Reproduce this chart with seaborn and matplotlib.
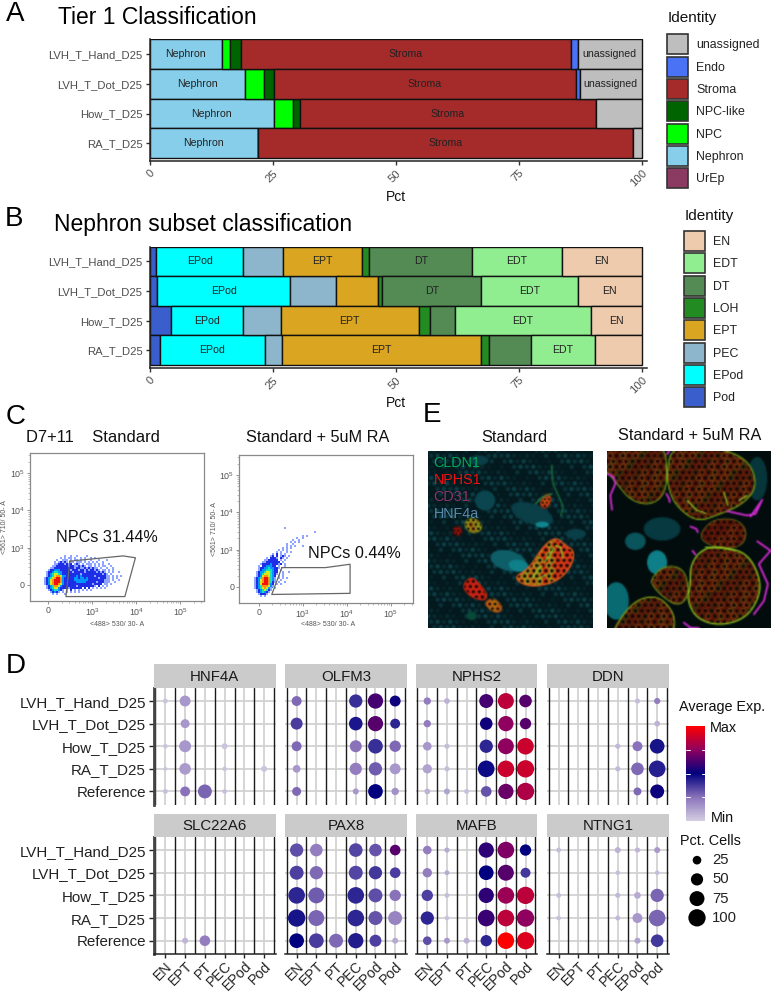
import numpy as np
import pandas as pd
import matplotlib
matplotlib.use("Agg")
import matplotlib.pyplot as plt
import seaborn as sns
from matplotlib.backends.backend_agg import FigureCanvasAgg
from matplotlib.cm import ScalarMappable
from matplotlib.colors import LinearSegmentedColormap, Normalize
from matplotlib.figure import Figure
from matplotlib.patches import Ellipse, Polygon, Patch

W, H = 774, 993

# ---- panels A and B
samples = ["LVH_T_Hand_D25", "LVH_T_Dot_D25", "How_T_D25", "RA_T_D25"]

tier1_levels = ["unassigned", "Endo", "Stroma", "NPC-like", "NPC", "Nephron", "UrEp"]
tier1_colors = ["#BEBEBE", "#4A72F5", "#A52A2A", "#006400", "#00FF00", "#87CEEB", "#8B3A62"]
tier1_unassigned = [13.0, 12.6, 9.3, 1.8]
tier1_endo = [1.4, 0.8, 0.0, 0.0]
tier1_stroma = [67.0, 61.3, 60.1, 76.1]
tier1_npc_like = [2.3, 2.1, 1.5, 0.0]
tier1_npc = [1.5, 3.8, 3.8, 0.0]
tier1_nephron = [14.8, 19.4, 25.3, 22.1]
tier1_urep = [0.0, 0.0, 0.0, 0.0]

nephron_levels = ["EN", "EDT", "DT", "LOH", "EPT", "PEC", "EPod", "Pod"]
nephron_colors = ["#EECBAD", "#90EE90", "#548B54", "#228B22", "#DAA520", "#8DB6CD", "#00FFFF", "#3A5FCD"]
neph_en = [16.2, 13.0, 10.3, 9.5]
neph_edt = [18.2, 19.6, 27.6, 12.9]
neph_dt = [20.9, 20.1, 5.0, 8.6]
neph_loh = [1.6, 0.8, 2.4, 1.7]
neph_ept = [15.9, 8.5, 28.0, 40.3]
neph_pec = [8.2, 9.4, 7.7, 3.6]
neph_epod = [17.6, 27.0, 14.7, 21.3]
neph_pod = [1.4, 1.6, 4.3, 2.1]

# ---- panel D
genes = ["HNF4A", "OLFM3", "NPHS2", "DDN", "SLC22A6", "PAX8", "MAFB", "NTNG1"]
dot_samples = ["LVH_T_Hand_D25", "LVH_T_Dot_D25", "How_T_D25", "RA_T_D25", "Reference"]
cell_types = ["EN", "EPT", "PT", "PEC", "EPod", "Pod"]

hnf4a_pct = [[8, 40, 0, 0, 0, 0], [0, 27, 0, 0, 0, 0], [7, 48, 0, 12, 0, 0], [5, 45, 0, 7, 0, 12], [8, 33, 65, 7, 0, 0]]
hnf4a_exp = [[.03, .15, 0, 0, 0, 0], [0, .15, 0, 0, 0, 0], [.03, .15, 0, .03, 0, 0], [.03, .14, 0, .03, 0, .03], [.04, .25, .28, .05, 0, 0]]
olfm3_pct = [[33, 0, 0, 59, 78, 40], [48, 0, 0, 62, 78, 33], [33, 0, 0, 48, 72, 43], [20, 0, 0, 50, 59, 40], [27, 0, 0, 12, 72, 18]]
olfm3_exp = [[.27, 0, 0, .40, .62, .52], [.37, 0, 0, .45, .65, .42], [.27, 0, 0, .25, .40, .27], [.15, 0, 0, .22, .30, .15], [.27, 0, 0, .15, .50, .17]]
nphs2_pct = [[18, 11, 0, 65, 85, 53], [18, 0, 0, 53, 78, 43], [25, 9, 0, 59, 85, 92], [29, 9, 0, 92, 92, 100], [11, 12, 8, 38, 78, 100]]
nphs2_exp = [[.22, .08, 0, .62, .85, .65], [.22, 0, 0, .53, .75, .65], [.15, .05, 0, .42, .75, .88], [.12, .05, 0, .48, .88, .88], [.08, .12, .04, .32, .68, .82]]
ddn_pct = [[0, 0, 0, 0, 9, 13], [0, 0, 0, 0, 0, 11], [0, 0, 0, 9, 33, 72], [0, 0, 0, 9, 53, 92], [0, 0, 0, 0, 21, 65]]
ddn_exp = [[0, 0, 0, 0, .05, .22], [0, 0, 0, 0, 0, .08], [0, 0, 0, .06, .25, .46], [0, 0, 0, .06, .27, .43], [0, 0, 0, 0, .27, .52]]
slc22a6_pct = [[0] * 6, [0] * 6, [0] * 6, [0] * 6, [0, 12, 38, 0, 0, 0]]
slc22a6_exp = [[0] * 6, [0] * 6, [0] * 6, [0] * 6, [0, .07, .22, 0, 0, 0]]
pax8_pct = [[59, 53, 0, 62, 53, 38], [65, 59, 0, 65, 59, 38], [92, 85, 0, 92, 65, 43], [100, 85, 0, 92, 65, 65], [72, 72, 65, 78, 48, 12]]
pax8_exp = [[.33, .22, 0, .35, .32, .65], [.36, .27, 0, .35, .38, .37], [.42, .30, 0, .42, .33, .25], [.46, .28, 0, .42, .32, .20], [.50, .37, .27, .44, .36, .10]]
mafb_pct = [[25, 9, 0, 78, 92, 43], [29, 8, 0, 72, 85, 33], [43, 8, 0, 78, 92, 100], [59, 7, 0, 92, 92, 100], [25, 12, 12, 43, 92, 100]]
mafb_exp = [[.22, .10, 0, .58, .72, .50], [.22, .10, 0, .50, .65, .38], [.36, .05, 0, .58, .78, .85], [.42, .04, 0, .60, .85, .75], [.33, .15, .08, .42, 1.0, .92]]
ntng1_pct = [[8, 0, 0, 12, 9, 12], [0, 0, 0, 7, 0, 7], [8, 0, 0, 9, 15, 59], [7, 0, 0, 8, 33, 92], [0, 0, 0, 0, 12, 53]]
ntng1_exp = [[.05, 0, 0, .08, .07, .15], [0, 0, 0, .05, 0, .05], [.05, 0, 0, .06, .10, .28], [.04, 0, 0, .06, .15, .28], [0, 0, 0, 0, .12, .38]]
gene_pct = [hnf4a_pct, olfm3_pct, nphs2_pct, ddn_pct, slc22a6_pct, pax8_pct, mafb_pct, ntng1_pct]
gene_exp = [hnf4a_exp, olfm3_exp, nphs2_exp, ddn_exp, slc22a6_exp, pax8_exp, mafb_exp, ntng1_exp]
legend_pct = [25, 50, 75, 100]

# ---- panel C, events per 2 px cell, 1 = sparse ... 7 = densest
flow_standard = [
    "          1  1  1    1                  ",
    "        1 1 11 1  1 1  1 1              ",
    "      1  111 1 11 1 1  1   1   1        ",
    "     1 12121 11 111 1 1 1 1  1          ",
    "     112221212 121 1 111 1 1 1  1       ",
    "    11222222122112121 11 1 1 11  1      ",
    "   112222222222122112121211 1  1  1     ",
    "  12233322222122212212122121 11 1 1     ",
    " 122344332222212222212222212121 1 1  1  ",
    " 1234554322222222212222222222121 1      ",
    " 12345665332222232322222212222211 1 1 1 ",
    "123456776322222332332322222122211 1 1   ",
    "123567776322222333333322222222111 1  1  ",
    "123567776322222233333222221222111  1    ",
    "12356776532222222222222212222 11 1      ",
    " 1234665322222221222222221 2 1 1        ",
    " 123455322221222222 2 2 1 1 1 1         ",
    "  12344321 1 2 1 1 1 1 1                ",
    "   12321 1 1 1 1 1                      ",
    "    1 1   1                             ",
]
flow_ra = [
    "                1                 ",
    "                                  ",
    "                               1  ",
    "                                  ",
    "                         1 1      ",
    "                      1  1        ",
    "                    1  1          ",
    "                   1 1 1          ",
    "                 1  1             ",
    "                 1 1 1   1        ",
    "               1 1 1              ",
    "             1 1 1                ",
    "            1 1  1 1              ",
    "          1 2 1 1                 ",
    "         12 2 121 1               ",
    "       1 2221 21 1                ",
    "      1122222 1 1                 ",
    "     112222222 1                  ",
    "    12222322212 1                 ",
    "   1 2233322 1  1                 ",
    "   12233433221                    ",
    "   1233444322 1                   ",
    "  12334554322  1  1               ",
    "  12345554321  1                  ",
    "  1235665432 1 1                  ",
    " 12346776431 1 1 1                ",
    " 12356776431  1                   ",
    " 12356776421 1  1                 ",
    " 1235777632 1 1                   ",
    " 1234666531                       ",
    " 123456531 1                      ",
    "  12345421                        ",
    "  1234321                         ",
    "   12221                          ",
    "    1 1                           ",
]
flow_colors = ["#8ea6ff", "#1e2ee6", "#0096ff", "#18e0b0", "#d8e818", "#ff9010", "#f01010"]
gate_standard_x = [0.49, 1.70, 1.98, 1.74, 0.40, 0.49]
gate_standard_y = [0.64, 0.78, 0.73, -0.31, -0.31, 0.64]
gate_ra_x = [0.52, 1.51, 2.07, 2.07, 0.29, 0.52]
gate_ra_y = [0.52, 0.52, 0.61, -0.17, -0.20, 0.52]

sns.set_theme(style="white")
plt.rcParams["font.family"] = ["Liberation Sans", "DejaVu Sans"]
plt.rcParams["mathtext.fontset"] = "custom"
plt.rcParams["mathtext.rm"] = "Liberation Sans"
fig = plt.figure(figsize=(W / 100, H / 100), dpi=100)


def px_axes(x0, y0, x1, y1):
    return fig.add_axes([x0 / W, 1 - y1 / H, (x1 - x0) / W, (y1 - y0) / H])


def px_text(x, y, s, **kw):
    kw.setdefault("va", "center")
    return fig.text(x / W, 1 - y / H, s, **kw)


def stacked(box, levels, colors, columns, legend_x, legend_y, title_y):
    long = pd.DataFrame({"sample": samples * len(levels),
                         "identity": np.repeat(levels, len(samples)),
                         "pct": np.concatenate(columns)})
    ax = px_axes(*box)
    sns.histplot(data=long, y="sample", weights="pct", hue="identity", hue_order=levels,
                 multiple="stack", discrete=True, shrink=1, palette=dict(zip(levels, colors)),
                 edgecolor="#111111", linewidth=1.0, alpha=1, legend=False, ax=ax)
    # names inside the wide segments
    for row in range(len(samples)):
        left = 0
        for lev, col in zip(levels[::-1], columns[::-1]):
            if col[row] >= 10:
                ax.text(left + col[row] / 2, row, lev, ha="center", va="center", fontsize=7.6, color="#222222")
            left += col[row]
    ax.set_xlim(0, 101)
    ax.set_ylim(3.6, -0.5)
    ax.set_yticks(range(len(samples)), samples)
    ax.set_xticks([0, 25, 50, 75, 100])
    ax.set_ylabel("")
    ax.set_xlabel("")
    ax.tick_params(axis="y", left=True, length=3, width=1, color="#333333", labelcolor="#4D4D4D", labelsize=8.1, pad=2)
    ax.tick_params(axis="x", bottom=True, length=3, width=1, color="#333333", labelcolor="#4D4D4D", labelsize=8.1, pad=2)
    plt.setp(ax.get_xticklabels(), rotation=45, ha="right", rotation_mode="anchor")
    sns.despine(ax=ax)
    for s in ["left", "bottom"]:
        ax.spines[s].set_color("#222222")
        ax.spines[s].set_linewidth(1.1)
    handles = [Patch(facecolor=c, edgecolor="#333333", linewidth=1.2, label=l) for l, c in zip(levels, colors)]
    fig.legend(handles=handles, loc="upper left", bbox_to_anchor=(legend_x / W, 1 - legend_y / H),
               frameon=False, fontsize=8.9, handlelength=1.72, handleheight=2.11, labelspacing=0.19,
               handletextpad=0.62, borderaxespad=0, borderpad=0, labelcolor="#222222")
    px_text(legend_x + 1, title_y, "Identity", fontsize=11, color="#111111")
    return ax


stacked((149.5, 39.5, 646.5, 161), tier1_levels, tier1_colors,
        [tier1_unassigned, tier1_endo, tier1_stroma, tier1_npc_like, tier1_npc, tier1_nephron, tier1_urep],
        667, 34.5, 18)
stacked((149.5, 246.7, 646.5, 368), nephron_levels, nephron_colors,
        [neph_en, neph_edt, neph_dt, neph_loh, neph_ept, neph_pec, neph_epod, neph_pod],
        684, 231, 216)
px_text(396, 197, "Pct", fontsize=10, ha="center", color="#111111")
px_text(396, 403, "Pct", fontsize=10, ha="center", color="#111111")

for x, y, s in [(6, 14, "A"), (5, 219, "B"), (6, 417, "C"), (6, 666, "D"), (423, 415, "E")]:
    px_text(x, y, s, fontsize=20, color="black")
px_text(58, 17, "Tier 1 Classification", fontsize=16.5, color="black")
px_text(54, 224.5, "Nephron subset classification", fontsize=16.5, color="black")


def flow_plot(box, x0, y0, rows, gate_x, gate_y, origin, ylab_x, xlab_x, xlab_y):
    ax = px_axes(*box)
    # decade coordinates: 0 -> 0, 1 -> 10^3, 2 -> 10^4, 3 -> 10^5
    dx, dy = 44.0, 37.3
    cells = [(c, r, int(ch)) for r, row in enumerate(rows) for c, ch in enumerate(row) if ch != " "]
    ev = pd.DataFrame(cells, columns=["col", "row", "level"])
    ev["x"] = (origin[0] + ev["col"] * 2 - x0) / dx
    ev["y"] = (y0 - origin[1] - ev["row"] * 2) / dy
    sizes = {1: 1.7, 2: 2.6, 3: 3.4, 4: 3.8, 5: 3.8, 6: 3.8, 7: 3.8}
    sns.scatterplot(data=ev, x="x", y="y", hue="level", palette=dict(zip(range(1, 8), flow_colors)),
                    size="level", sizes=sizes, marker="s", linewidth=0, legend=False, ax=ax)
    sns.lineplot(x=gate_x, y=gate_y, sort=False, estimator=None, color="#666666", linewidth=0.9, ax=ax)
    ax.set_xlim((box[0] - x0) / dx, (box[2] - x0) / dx)
    ax.set_ylim((y0 - box[3]) / dy, (y0 - box[1]) / dy)
    ax.set_xticks([0, 1, 2, 3], ["0", "$10^3$", "$10^4$", "$10^5$"])
    ax.set_yticks([0, 1, 2, 3], ["0", "$10^3$", "$10^4$", "$10^5$"])
    minors = [d + np.log10(k) for d in [0, 1, 2, 3] for k in range(2, 10)]
    ax.set_xticks([m for m in minors if m < 3.5], minor=True)
    ax.set_yticks([m for m in minors if m < 3.5], minor=True)
    ax.tick_params(which="major", length=2.5, width=0.5, color="#666666", labelcolor="#555555", labelsize=6.4, pad=1.2, bottom=True, left=True)
    ax.tick_params(which="minor", length=1.2, width=0.4, color="#888888", bottom=True, left=True)
    ax.set_xlabel("")
    ax.set_ylabel("")
    for s in ax.spines.values():
        s.set_color("#8a8a8a")
        s.set_linewidth(0.9)
    px_text(xlab_x, xlab_y, "<488> 530/ 30- A", fontsize=5.0, ha="center", color="#555555")
    px_text(ylab_x, (box[1] + box[3]) / 2, "<561> 710/ 50- A", fontsize=5.0, ha="center", rotation=90, color="#555555")
    return ax


flow_plot((30, 453, 203.7, 601), 48.3, 585, flow_standard, gate_standard_x, gate_standard_y, (45, 556), 4.5, 117, 624)
flow_plot((239.3, 454.7, 413, 602.7), 259, 587, flow_ra, gate_ra_x, gate_ra_y, (253.3, 528.3), 215, 328, 625)
px_text(26, 437, "D7+11    Standard", fontsize=11.9, color="#111111")
px_text(245.7, 437, "Standard + 5uM RA", fontsize=11.7, color="#111111")
px_text(55.7, 537.5, "NPCs 31.44%", fontsize=11.6, color="#111111")
px_text(307.7, 553.5, "NPCs 0.44%", fontsize=11.6, color="#111111")


# ---- panel E, micrographs sketched as shapes and softened through a small raster
def lattice(xmax, ymax, step=17):
    xs, ys = [], []
    for j, yy in enumerate(np.arange(0, ymax + step, step * 0.87)):
        for xx in np.arange(-step, xmax + step, step):
            xs.append(xx + (j % 2) * step / 2)
            ys.append(yy)
    return np.array(xs), np.array(ys)


def smooth(verts, n=3):
    pts = np.array(verts, dtype=float)
    for _ in range(n):
        nxt = np.roll(pts, -1, axis=0)
        pts = np.column_stack([0.75 * pts + 0.25 * nxt, 0.25 * pts + 0.75 * nxt]).reshape(-1, 2)
    return pts


def organoid(ax, verts, fill, rings, rim, rim_w=0.8, step=19, size=13, ring_w=0.55):
    pts = smooth(verts)
    poly = Polygon(pts, closed=True, facecolor=fill, edgecolor="none", zorder=3)
    ax.add_patch(poly)
    lx, ly = lattice(492, 531, step)
    cols = [rings[(i * 7 + i // 3) % len(rings)] for i in range(len(lx))]
    sc = ax.scatter(lx, ly, s=size, facecolors="#140905", edgecolors=cols, linewidths=ring_w, zorder=4)
    sc.set_clip_path(poly)
    ax.add_patch(Polygon(pts, closed=True, facecolor="none", edgecolor=rim, linewidth=rim_w, zorder=5))


def blob(ax, x, y, w, h, color, angle=0):
    ax.add_patch(Ellipse((x, y), w, h, angle=angle, facecolor=color, edgecolor="none", zorder=2))


def soft_image(target, draw, background):
    small = Figure(figsize=(1.64, 1.77), dpi=80)
    FigureCanvasAgg(small)
    a = small.add_axes([0, 0, 1, 1])
    a.set_xlim(0, 492)
    a.set_ylim(531, 0)
    a.axis("off")
    small.patch.set_facecolor(background)
    draw(a)
    small.canvas.draw()
    target.imshow(np.asarray(small.canvas.buffer_rgba())[:, :, :3], extent=(0, 492, 531, 0), aspect="auto", interpolation="bicubic")
    target.set_xticks([])
    target.set_yticks([])
    for s in target.spines.values():
        s.set_visible(False)


def draw_standard(a):
    lx, ly = lattice(492, 531, 19)
    tones = ["#0a333a", "#062228", "#0c3f47", "#041c21", "#082a30"]
    a.scatter(lx, ly, s=11, c=[tones[(i * 7 + i // 4) % 5] for i in range(len(lx))], linewidths=0, zorder=1)
    blob(a, 170, 150, 60, 60, "#0b4650")
    blob(a, 310, 190, 130, 60, "#0a3f47", angle=20)
    blob(a, 240, 330, 110, 60, "#0e5e68", angle=15)
    blob(a, 270, 345, 60, 35, "#0f808a", angle=10)
    blob(a, 340, 222, 40, 18, "#10868f")
    blob(a, 150, 30, 60, 30, "#0a3f47")
    blob(a, 440, 250, 60, 30, "#0a3f47")
    blob(a, 130, 495, 30, 25, "#0a4a38")
    warm = ["#f05a1c", "#e83018", "#d8781c", "#f03a18", "#a8b020"]
    organoid(a, [(255, 380), (300, 355), (340, 290), (380, 258), (410, 285), (435, 300), (430, 340), (395, 385), (340, 405), (290, 405)],
             "#b84a18", warm, "#e8601c", 0.9, 18, 12, 0.8)
    organoid(a, [(108, 395), (130, 378), (150, 395), (178, 430), (170, 450), (130, 440), (106, 415)], "#a01c10", ["#f02818", "#d82010"], "#c02a14", 0.7, 18, 12, 0.8)
    organoid(a, [(165, 455), (195, 440), (222, 465), (215, 485), (190, 482)], "#a04a10", ["#d86818", "#c88818"], "#a05010", 0.5, 16, 9, 0.7)
    organoid(a, [(105, 215), (135, 198), (165, 225), (150, 248), (120, 245)], "#5a5a10", ["#a8b020", "#c86818"], "#6a7a14", 0.5, 15, 8, 0.7)
    organoid(a, [(72, 235), (90, 225), (105, 240), (92, 258), (78, 252)], "#5a0c0c", ["#b01810"], "#500c0c", 0.4, 12, 6, 0.6)
    organoid(a, [(335, 150), (355, 125), (370, 145), (355, 175), (335, 170)], "#b03a10", ["#f06018", "#e82a10"], "#903010", 0.4, 12, 6, 0.6)
    for xs, ys in [([310, 325, 340], [382, 360, 345]), ([345, 360, 372], [335, 318, 295]), ([380, 395, 402], [285, 290, 322]), ([330, 350], [385, 372])]:
        a.plot(xs, ys, color="#8cd428", lw=0.9, zorder=6)
    a.plot([368, 372, 395, 402, 396], [45, 100, 150, 170, 195], color="#1e7a3c", lw=0.9, zorder=6)
    a.plot([320, 340, 370], [160, 140, 130], color="#2a8a40", lw=0.9, zorder=6)


def draw_ra(a):
    blob(a, 150, 335, 60, 72, "#0e7f88")
    blob(a, 85, 272, 62, 52, "#0a545c")
    blob(a, 28, 450, 75, 112, "#0a6a72")
    blob(a, 165, 235, 110, 70, "#063a40")
    blob(a, 450, 85, 60, 130, "#07363a")
    blob(a, 340, 5, 60, 30, "#07363a")
    red = ["#a02810", "#6a3010", "#b84810", "#585010", "#8a1c10", "#a06014"]
    rim = "#7ab41c"
    organoid(a, [(-20, -20), (172, -20), (180, 60), (175, 130), (130, 165), (70, 150), (30, 100), (-20, 40)], "#2c1a08", red, rim, 0.7)
    organoid(a, [(195, -10), (310, -10), (400, 15), (440, 60), (445, 120), (400, 165), (340, 190), (270, 215), (210, 170), (185, 120), (180, 60)], "#361808", red, rim, 0.8)
    organoid(a, [(285, 240), (320, 205), (390, 205), (420, 240), (410, 280), (370, 295), (310, 285), (280, 265)], "#2c0e06", red[::2], "#6a8018", 0.5)
    organoid(a, [(250, 340), (290, 290), (360, 290), (420, 310), (455, 370), (460, 430), (420, 500), (340, 525), (270, 505), (240, 450), (250, 400)], "#361608", red, "#8cc820", 1.0)
    organoid(a, [(130, 385), (170, 345), (225, 350), (245, 400), (240, 445), (210, 465), (170, 440), (140, 410)], "#2c1608", red, "#7aa81c", 0.7)
    organoid(a, [(40, 500), (90, 445), (150, 435), (190, 470), (205, 510), (195, 560), (10, 560)], "#361a08", red, "#8ab41c", 0.8)
    blob(a, 345, 360, 50, 40, "#140a04")
    blob(a, 100, 95, 40, 35, "#140a04")
    blob(a, 400, 100, 40, 35, "#200c05")
    blob(a, 285, 450, 36, 30, "#140a04")
    for xs, ys in [([240, 270, 295], [150, 180, 188]), ([350, 362], [125, 165]), ([295, 340, 385], [290, 292, 300]), ([395, 420], [150, 135])]:
        a.plot(xs, ys, color="#90c820", lw=0.9, zorder=6)
    for xs, ys in [
        ([0, 20, 25, 10, 15], [70, 80, 100, 135, 178]),
        ([180, 188], [12, 0]),
        ([178, 186, 188], [130, 145, 155]),
        ([250, 268, 272], [228, 235, 245]),
        ([256, 265], [300, 312]),
        ([360, 420, 445, 465, 430], [182, 195, 190, 148, 198]),
        ([450, 490, 455, 482, 470, 440], [272, 300, 340, 400, 450, 490]),
        ([230, 250, 275], [515, 530, 531]),
    ]:
        a.plot(xs, ys, color="#d82cd8", lw=1.3, zorder=7)


ax_e1 = px_axes(428, 451, 592, 628)
ax_e2 = px_axes(606.7, 451, 770.7, 628)
soft_image(ax_e1, draw_standard, "#03181c")
soft_image(ax_e2, draw_ra, "#020c0d")
for yy, s, c in [(37, "CLDN1", "#00a858"), (88, "NPHS1", "#ee1010"), (139, "CD31", "#8a3468"), (190, "HNF4a", "#5a88aa")]:
    ax_e1.text(17, yy, s, fontsize=10.4, color=c, va="center", zorder=8)
px_text(514.5, 437, "Standard", fontsize=11.7, ha="center", color="#111111")
px_text(689.5, 435, "Standard + 5uM RA", fontsize=11.7, ha="center", color="#111111")

# ---- panel D, dot plots
exp_cmap = LinearSegmentedColormap.from_list(
    "exp", ["#D4CEE2", "#8A72BA", "#00007F", "#8E0060", "#FF0000"])
col_x = [(153.7, 276), (285, 407), (415.7, 537.3), (547, 669)]
row_y = [(664.3, 687.7, 805), (814, 836.7, 954.3)]

for i, gene in enumerate(genes):
    r, c = i // 4, i % 4
    x0, x1 = col_x[c]
    ys, y_top, y_bot = row_y[r]
    ax = px_axes(x0, y_top, x1, y_bot)
    strip = px_axes(x0, ys, x1, y_top)
    strip.set_facecolor("#CBCBCB")
    strip.set_xticks([])
    strip.set_yticks([])
    for s in strip.spines.values():
        s.set_visible(False)
    strip.text(0.5, 0.47, gene, transform=strip.transAxes, ha="center", va="center", fontsize=10.8, color="#1a1a1a")

    pct = np.array(gene_pct[i], dtype=float)
    exp = np.array(gene_exp[i], dtype=float)
    df = pd.DataFrame({"cell": np.tile(np.arange(len(cell_types)), len(dot_samples)),
                       "sample": np.repeat(np.arange(len(dot_samples)), len(cell_types)),
                       "pct": pct.ravel(), "exp": exp.ravel()})
    ax.set_axisbelow(True)
    for k in range(len(cell_types)):
        ax.axvline(k, color="#D2D2D2", lw=1.3, zorder=1)
    for k in range(len(dot_samples)):
        ax.axhline(k, color="#D2D2D2", lw=1.3, zorder=1)
    for k in range(len(cell_types) + 1):
        ax.axvline(k - 0.5, color="#1a1a1a", lw=1.0, zorder=1.5)
    sns.scatterplot(data=df[df["pct"] > 0], x="cell", y="sample", size="pct", sizes=(0, 155), size_norm=(0, 100),
                    hue="exp", hue_norm=(0, 1), palette=exp_cmap, linewidth=0, legend=False, ax=ax, zorder=3)
    ax.set_xlim(-0.59, 5.6)
    ax.set_ylim(4.6, -0.59)
    ax.set_xlabel("")
    ax.set_ylabel("")
    ax.set_yticks(range(len(dot_samples)), dot_samples if c == 0 else [])
    ax.set_xticks(range(len(cell_types)), cell_types if r == 1 else [])
    ax.tick_params(axis="y", left=(c == 0), length=3.5, width=1, color="#222222", labelsize=10.9, labelcolor="#222222", pad=2)
    ax.tick_params(axis="x", bottom=(r == 1), length=3, width=1, color="#222222", labelsize=10.2, labelcolor="#222222", pad=0.5)
    plt.setp(ax.get_xticklabels(), rotation=45, ha="right", rotation_mode="anchor")
    for s in ax.spines.values():
        s.set_visible(False)
    if r == 1:
        ax.spines["bottom"].set_visible(True)
        ax.spines["bottom"].set_color("#222222")
        ax.spines["bottom"].set_linewidth(1.1)
    if c == 0:
        ax.spines["left"].set_visible(True)
        ax.spines["left"].set_color("#444444")
        ax.spines["left"].set_linewidth(2.0)

# colour bar and size key
px_text(679, 707, "Average Exp.", fontsize=10.4, color="#111111")
cax = px_axes(686.3, 726, 705.3, 821)
cb = fig.colorbar(ScalarMappable(Normalize(0, 1), exp_cmap), cax=cax)
cb.outline.set_visible(False)
cb.set_ticks([])
for v in [0.25, 0.5, 0.75]:
    cax.plot([0, 0.2], [v, v], color="white", lw=0.7, transform=cax.get_yaxis_transform())
    cax.plot([0.8, 1], [v, v], color="white", lw=0.7, transform=cax.get_yaxis_transform())
px_text(710, 728, "Max", fontsize=10.4, color="#111111")
px_text(711, 818, "Min", fontsize=10.4, color="#111111")
px_text(680, 841, "Pct. Cells", fontsize=10.4, color="#111111")

kax = px_axes(680, 850, 770, 928)
sns.scatterplot(x=[0] * len(legend_pct), y=range(len(legend_pct)), size=legend_pct, sizes=(0, 155), size_norm=(0, 100),
                color="black", linewidth=0, legend=False, ax=kax)
kax.set_xlim(-17 / 90, 73 / 90)
kax.set_ylim(3.53, -0.53)
kax.axis("off")
for k, p in enumerate(legend_pct):
    kax.text(15 / 90, k, str(p), fontsize=10.7, va="center", color="#222222")

fig.savefig("out.png", dpi=100)
